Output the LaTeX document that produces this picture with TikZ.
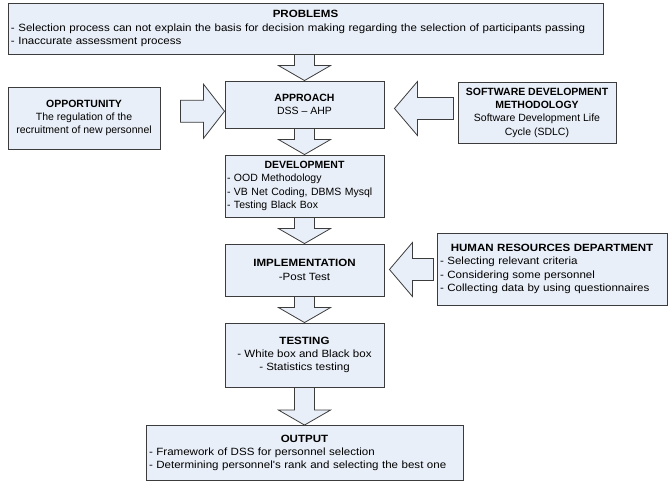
\documentclass[tikz,border=0pt]{standalone}
\usepackage{fontspec}
\setmainfont{Liberation Sans}
\newfontfamily\widefont{Liberation Sans}[FakeStretch=1.1]
\usetikzlibrary{calc}
\definecolor{boxfill}{RGB}{233,239,248}
\definecolor{boxline}{RGB}{60,60,60}
\tikzset{
  box/.style={draw=boxline, fill=boxfill, line width=0.9pt, inner sep=0pt,
    font=\fontsize{10.5}{13.3}\selectfont, text=black},
  widebox/.style={box, font=\widefont\fontsize{10.5}{13.3}\selectfont},
  barrow/.style={draw=boxline, fill=boxfill, line width=0.8pt, line join=miter}
}
% vertical block arrow: #1 top of shaft, #2 tip
\newcommand{\darrow}[2]{%
  \draw[barrow] let \p1=(#1), \p2=(#2) in
    (\x2-10pt,\y1) -- (\x2+10pt,\y1) -- (\x2+10pt,\y2+15pt) -- (\x2+26pt,\y2+15pt)
    -- (\x2,\y2) -- (\x2-26pt,\y2+15pt) -- (\x2-10pt,\y2+15pt) -- cycle;}
% right-pointing block arrow: #1 tail, #2 tip
\newcommand{\rarrow}[2]{%
  \draw[barrow] let \p1=(#1), \p2=(#2) in
    (\x1,\y2-11pt) -- (\x2-21pt,\y2-11pt) -- (\x2-21pt,\y2-27pt) -- (\x2,\y2)
    -- (\x2-21pt,\y2+27pt) -- (\x2-21pt,\y2+11pt) -- (\x1,\y2+11pt) -- cycle;}
% left-pointing block arrow: #1 tail, #2 tip
\newcommand{\larrow}[2]{%
  \draw[barrow] let \p1=(#1), \p2=(#2) in
    (\x1,\y2-11pt) -- (\x2+23pt,\y2-11pt) -- (\x2+23pt,\y2-27pt) -- (\x2,\y2)
    -- (\x2+23pt,\y2+27pt) -- (\x2+23pt,\y2+11pt) -- (\x1,\y2+11pt) -- cycle;}
\newcommand{\ctitle}[2]{\makebox[#1][c]{\textbf{#2}}}
\begin{document}
\begin{tikzpicture}[x=1pt, y=-1pt]
\useasboundingbox (0,0) rectangle (672,483);

\node[widebox, minimum width=595, minimum height=51, text width=589, align=left] (prob) at (305.5,28.5)
  {\ctitle{589pt}{PROBLEMS}\\
   - Selection process can not explain the basis for decision making regarding the selection of participants passing\\
   - Inaccurate assessment process};

\node[box, minimum width=159, minimum height=47, align=center] (app) at (304.5,104.5)
  {\textbf{APPROACH}\\DSS -- AHP};

\node[box, minimum width=152, minimum height=62, align=center] (opp) at (84,118)
  {\textbf{OPPORTUNITY}\\The regulation of the\\recruitment of new personnel};

\node[box, minimum width=158, minimum height=61, align=center] (soft) at (537,112.5)
  {\textbf{SOFTWARE DEVELOPMENT}\\\textbf{METHODOLOGY}\\Software Development Life\\Cycle (SDLC)};

\node[box, minimum width=159, minimum height=62, text width=155, align=left] (dev) at (304.5,186)
  {\ctitle{155pt}{DEVELOPMENT}\\- OOD Methodology\\- VB Net Coding, DBMS Mysql\\- Testing Black Box};

\node[widebox, minimum width=159, minimum height=52, align=center] (impl) at (304.5,270)
  {\textbf{IMPLEMENTATION}\\-Post Test};

\node[widebox, minimum width=230, minimum height=72, text width=224, align=left] (hr) at (552,269)
  {\ctitle{224pt}{HUMAN RESOURCES DEPARTMENT}\\- Selecting relevant criteria\\- Considering some personnel\\- Collecting data by using questionnaires};

\node[widebox, minimum width=159, minimum height=64, align=center] (test) at (304.5,355)
  {\textbf{TESTING}\\- White box and Black box\\- Statistics testing};

\node[widebox, minimum width=317, minimum height=55, text width=311, align=left] (out) at (304.5,453)
  {\ctitle{311pt}{OUTPUT}\\- Framework of DSS for personnel selection\\- Determining personnel's rank and selecting the best one};

% block arrows
\darrow{app.north |- prob.south}{app.north}
\darrow{app.south}{dev.north}
\darrow{dev.south}{impl.north}
\darrow{impl.south}{test.north}
\darrow{test.south}{out.north}

\coordinate (m1) at ($(opp.east)!0.5!(app.west)$);
\rarrow{$(opp.east |- m1)+(20,0)$}{app.west |- m1}
\coordinate (m2) at ($(soft.west)!0.5!(app.east)$);
\larrow{$(soft.west |- m2)+(-4,0)$}{$(app.east |- m2)+(10,0)$}
\coordinate (m3) at ($(hr.west)!0.5!(impl.east)$);
\larrow{$(hr.west |- m3)+(-3,0)$}{$(impl.east |- m3)+(5,0)$}
\end{tikzpicture}
\end{document}
